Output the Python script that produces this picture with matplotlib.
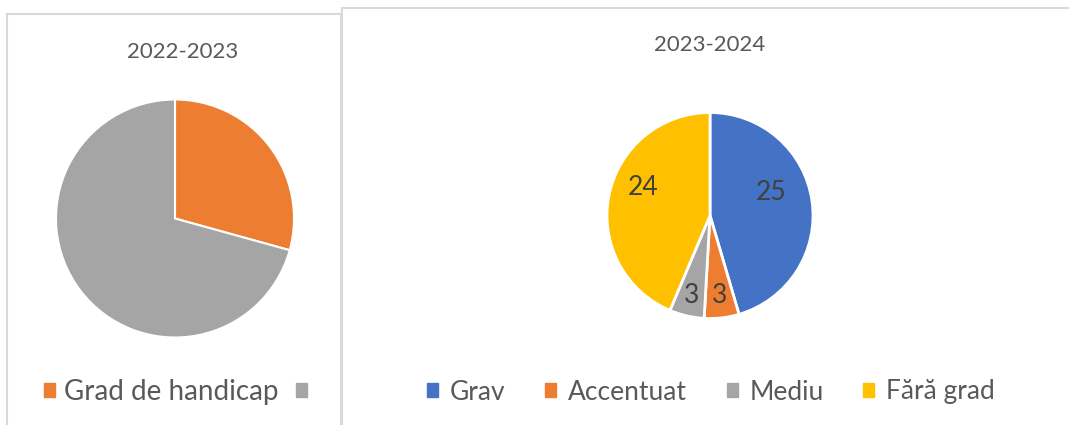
import numpy as np
import matplotlib.pyplot as plt
from matplotlib.patches import Rectangle, Patch

# date
ani = ['2022-2023', '2023-2024']
cat_stanga = ['Grad de handicap', '']
val_stanga = [29, 70]
cat_dreapta = ['Grav', 'Accentuat', 'Mediu', 'Fără grad']
val_dreapta = [25, 3, 3, 24]

culori_stanga = ['#ED7D31', '#A5A5A5']
culori_dreapta = ['#4472C4', '#ED7D31', '#A5A5A5', '#FFC000']

plt.rcParams['font.family'] = ['Lato', 'DejaVu Sans']
W, H = 1069, 425
fig = plt.figure(figsize=(W / 100, H / 100), dpi=100)


def px_axes(cx, cy, r):
    # axe patrate centrate pe (cx, cy) in pixeli, origine sus-stanga
    return fig.add_axes([(cx - r) / W, 1 - (cy + r) / H, 2 * r / W, 2 * r / H])


# chenarele celor doua grafice
fig.patches.append(Rectangle((7 / W, -0.1), (341 - 7) / W, 1.1 - 14 / H,
                             transform=fig.transFigure, fill=False,
                             edgecolor='#D9D9D9', lw=1.5))
fig.patches.append(Rectangle((341.5 / W, -0.1), 1.0, 1.1 - 8 / H,
                             transform=fig.transFigure, fill=False,
                             edgecolor='#D9D9D9', lw=1.5))

# grafic stanga
ax1 = px_axes(175, 218.5, 119)
ax1.pie(val_stanga, colors=culori_stanga, startangle=90, counterclock=False,
        radius=1, wedgeprops=dict(edgecolor='white', linewidth=1.5))
ax1.set_xlim(-1, 1)
ax1.set_ylim(-1, 1)
fig.text(183 / W, 1 - 52 / H, ani[0], ha='center', va='center',
         fontsize=16, color='#595959')
fig.legend(handles=[Patch(color=c, label=l) for c, l in zip(culori_stanga, cat_stanga)],
           loc='center', bbox_to_anchor=(180 / W, 1 - 392 / H), ncol=2, frameon=False,
           fontsize=20, labelcolor='#595959', handlelength=0.4, handleheight=0.4,
           handletextpad=0.35, columnspacing=0.6)

# grafic dreapta
ax2 = px_axes(710, 215.5, 103)
wedges, _ = ax2.pie(val_dreapta, colors=culori_dreapta, startangle=90,
                    counterclock=False, radius=1,
                    wedgeprops=dict(edgecolor='white', linewidth=2))
ax2.set_xlim(-1, 1)
ax2.set_ylim(-1, 1)
dist = [0.6, 0.78, 0.8, 0.66]
for w, v, d in zip(wedges, val_dreapta, dist):
    a = np.deg2rad((w.theta1 + w.theta2) / 2)
    ax2.text(d * np.cos(a), d * np.sin(a) + (0.14 if v > 10 else 0), str(v),
             ha='center', va='center', fontsize=19, color='#404040')
fig.text(710 / W, 1 - 45 / H, ani[1], ha='center', va='center',
         fontsize=16, color='#595959')
fig.legend(handles=[Patch(color=c, label=l) for c, l in zip(culori_dreapta, cat_dreapta)],
           loc='center', bbox_to_anchor=(711 / W, 1 - 392 / H), ncol=4, frameon=False,
           fontsize=19, labelcolor='#595959', handlelength=0.42, handleheight=0.42,
           handletextpad=0.45, columnspacing=1.5)

fig.savefig('out.png', dpi=100)
